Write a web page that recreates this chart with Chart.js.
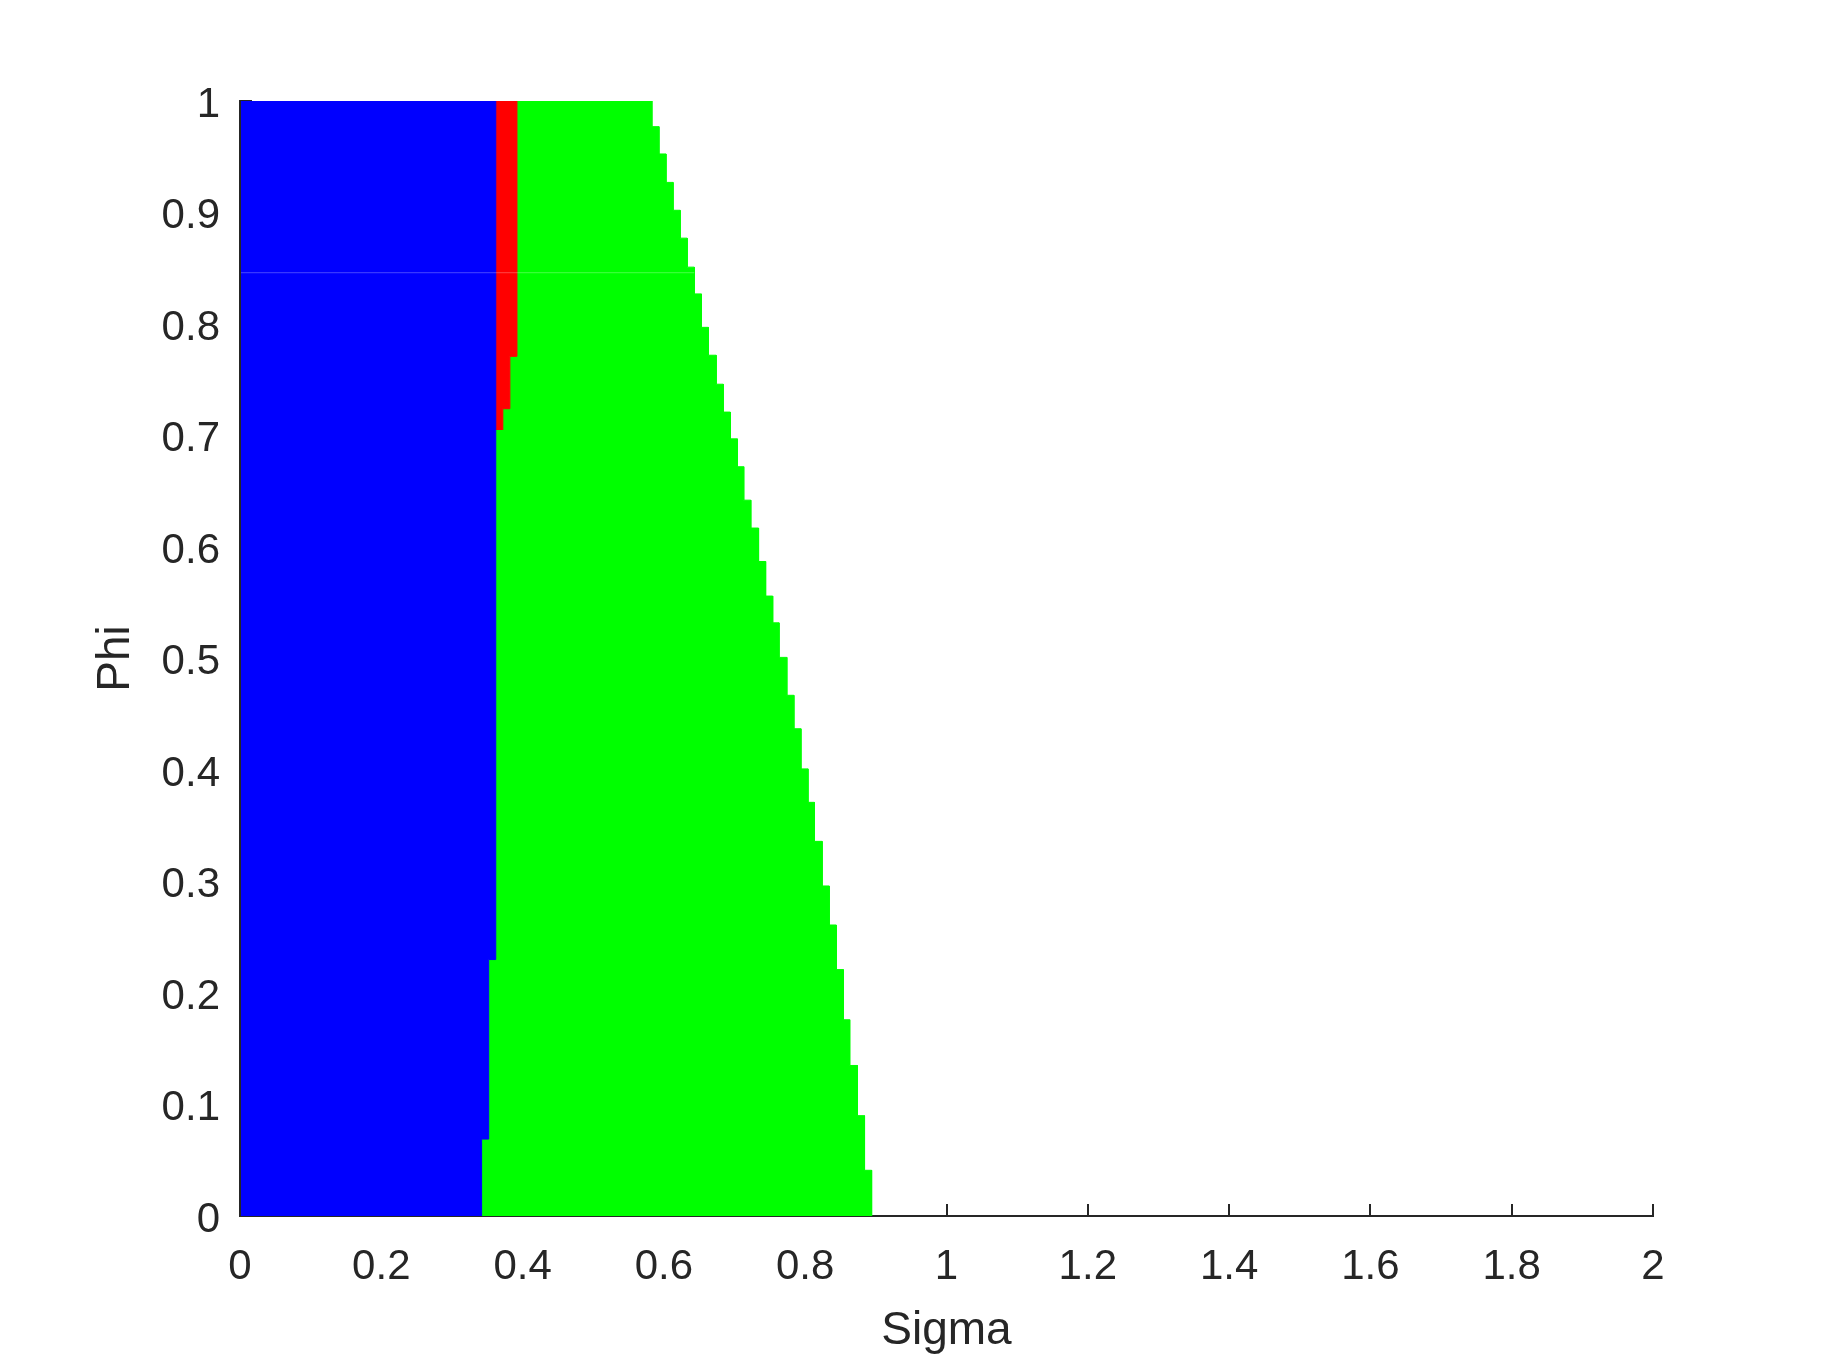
<!DOCTYPE html>
<html>
<head>
<meta charset="utf-8">
<title>Phi / Sigma regions</title>
<script src="https://cdn.jsdelivr.net/npm/chart.js@4.4.1/dist/chart.umd.min.js"></script>
<style>
  html, body { margin: 0; padding: 0; background: #fff; }
  #wrap { width: 1827px; height: 1370px; }
</style>
</head>
<body>
<div id="wrap"><canvas id="regions" width="1827" height="1370"></canvas></div>
<script>
// Step edges. Phi bands go bottom (0) to top (1),
// each sigma value is the edge of the region inside that band.
const blueEdgePhi = [0, 0.069, 0.230, 1]
const blueEdgeSigma = [0.342, 0.352, 0.362]

const redEdgePhi = [0.705, 0.724, 0.771, 1]
const redEdgeSigma = [0.372, 0.382, 0.392]

const greenEdgePhi = [0, 0.041, 0.090, 0.135, 0.176, 0.221, 0.261, 0.296, 0.336, 0.371,
  0.401, 0.437, 0.467, 0.501, 0.532, 0.556, 0.587, 0.617, 0.642, 0.672, 0.697, 0.721,
  0.746, 0.772, 0.797, 0.827, 0.851, 0.877, 0.902, 0.927, 0.9525, 0.977, 1]
const greenEdgeSigma = [0.894, 0.884, 0.874, 0.863, 0.854, 0.844, 0.834, 0.824, 0.813, 0.804,
  0.794, 0.784, 0.774, 0.763, 0.754, 0.744, 0.734, 0.723, 0.713, 0.704, 0.694, 0.684,
  0.674, 0.663, 0.653, 0.643, 0.633, 0.623, 0.613, 0.603, 0.593, 0.583]

// faint row gap seen across the filled area
const seamPhi = 0.846

const xTickValues = [0, 0.2, 0.4, 0.6, 0.8, 1, 1.2, 1.4, 1.6, 1.8, 2]
const xTickLabels = ['0', '0.2', '0.4', '0.6', '0.8', '1', '1.2', '1.4', '1.6', '1.8', '2']
const yTickValues = [0, 0.1, 0.2, 0.3, 0.4, 0.5, 0.6, 0.7, 0.8, 0.9, 1]
const yTickLabels = ['0', '0.1', '0.2', '0.3', '0.4', '0.5', '0.6', '0.7', '0.8', '0.9', '1']

const BLUE = '#0000ff'
const RED = '#ff0000'
const GREEN = '#00ff00'
const AXIS = '#262626'
const FONT = "'Liberation Sans', Arial, Helvetica, sans-serif"

// walk a step edge upwards: (s0,p0) (s0,p1) (s1,p1) (s1,p2) ...
function stairsUp(phis, sigmas) {
  const pts = []
  sigmas.forEach((s, i) => {
    pts.push({ x: s, y: phis[i] }, { x: s, y: phis[i + 1] })
  })
  return pts
}

const blueTopSigma = blueEdgeSigma[blueEdgeSigma.length - 1]

const bluePoly = [{ x: 0, y: 0 }]
  .concat(stairsUp(blueEdgePhi, blueEdgeSigma))
  .concat([{ x: 0, y: 1 }])

const redPoly = stairsUp(redEdgePhi, redEdgeSigma)
  .concat([{ x: blueTopSigma, y: 1 }, { x: blueTopSigma, y: redEdgePhi[0] }])

// left side of green = blue edge below the red wedge, red edge above it
const keep = blueEdgePhi.filter(p => p < redEdgePhi[0]).length
const greenLeftPhi = blueEdgePhi.slice(0, keep).concat(redEdgePhi)
const greenLeftSigma = blueEdgeSigma.slice(0, keep).concat(redEdgeSigma)

const greenPoly = stairsUp(greenEdgePhi, greenEdgeSigma).reverse()
  .concat(stairsUp(greenLeftPhi, greenLeftSigma))

const seamEnd = greenEdgeSigma[greenEdgePhi.findIndex(p => p > seamPhi) - 1]

function region(label, pts, color) {
  return {
    label: label,
    data: pts,
    showLine: true,
    fill: 'shape',
    backgroundColor: color,
    borderColor: color,
    borderWidth: 1,
    pointRadius: 0,
    pointHoverRadius: 0,
    tension: 0
  }
}

new Chart(document.getElementById('regions'), {
  type: 'scatter',
  data: {
    datasets: [
      {
        label: 'seam',
        data: [{ x: 0, y: seamPhi }, { x: seamEnd, y: seamPhi }],
        showLine: true,
        borderColor: 'rgba(255, 255, 255, 0.28)',
        borderWidth: 1,
        pointRadius: 0,
        fill: false
      },
      region('blue', bluePoly, BLUE),
      region('red', redPoly, RED),
      region('green', greenPoly, GREEN)
    ]
  },
  options: {
    responsive: false,
    devicePixelRatio: 1,
    animation: false,
    events: [],
    layout: { padding: { top: 101, right: 174, bottom: 0, left: 0 } },
    plugins: {
      legend: { display: false },
      tooltip: { enabled: false },
      title: { display: false }
    },
    scales: {
      x: {
        type: 'linear',
        min: 0,
        max: 2,
        afterBuildTicks: s => { s.ticks = xTickValues.map(v => ({ value: v })) },
        afterFit: s => { s.height = 154 },
        grid: { drawOnChartArea: false, drawTicks: true, tickLength: -12, color: AXIS, lineWidth: 2 },
        border: { display: true, color: AXIS, width: 2 },
        ticks: {
          callback: (v, i) => xTickLabels[i],
          color: AXIS,
          font: { family: FONT, size: 42 },
          padding: 38,
          maxRotation: 0,
          autoSkip: false
        },
        title: {
          display: true,
          text: 'Sigma',
          color: AXIS,
          font: { family: FONT, size: 46 },
          padding: { top: 0, bottom: 11 }
        }
      },
      y: {
        type: 'linear',
        min: 0,
        max: 1,
        afterBuildTicks: s => { s.ticks = yTickValues.map(v => ({ value: v })) },
        afterFit: s => { s.width = 240 },
        grid: { drawOnChartArea: false, drawTicks: true, tickLength: -12, color: AXIS, lineWidth: 2 },
        border: { display: true, color: AXIS, width: 2, z: 1 },
        ticks: {
          callback: (v, i) => yTickLabels[i],
          color: AXIS,
          font: { family: FONT, size: 42 },
          padding: 32,
          labelOffset: 4,
          autoSkip: false
        },
        title: {
          display: true,
          text: 'Phi',
          color: AXIS,
          font: { family: FONT, size: 46 },
          padding: { top: 89, bottom: 0 }
        }
      }
    }
  }
})
</script>
</body>
</html>
